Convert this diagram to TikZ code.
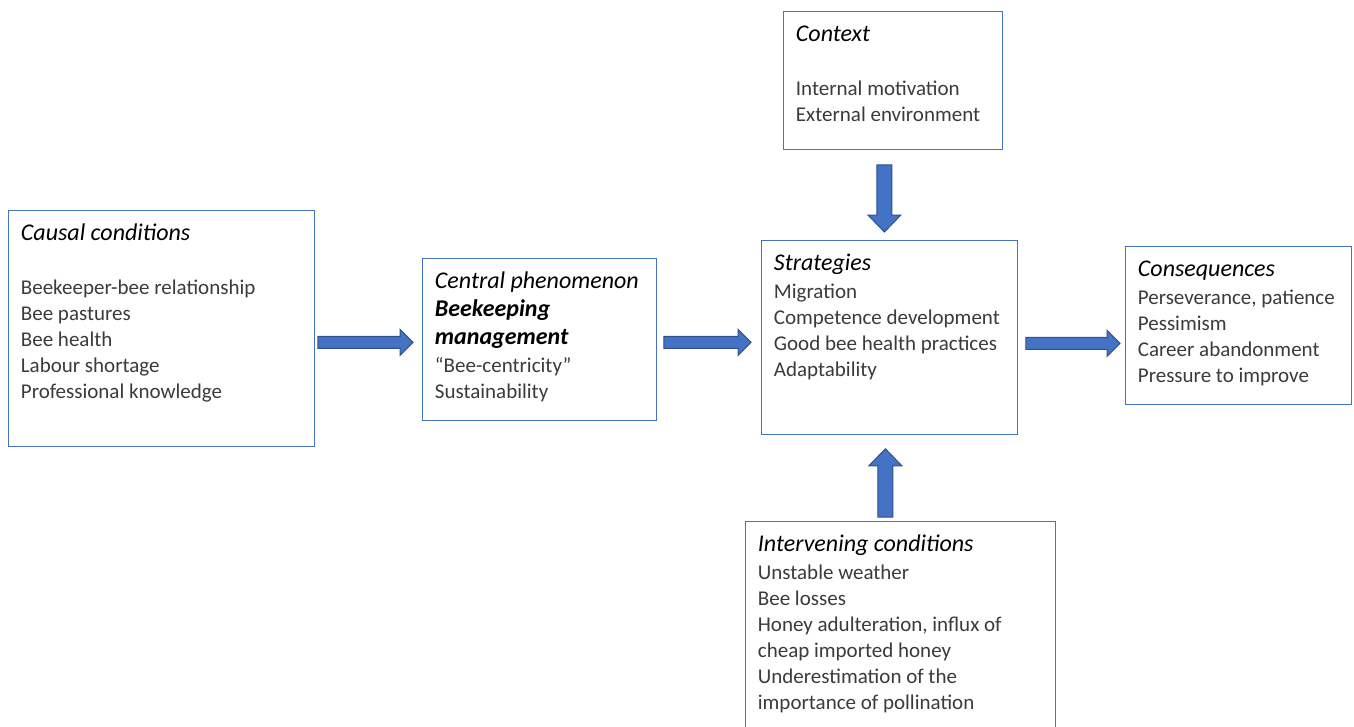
\documentclass[tikz,border=0pt]{standalone}
\usepackage{fontspec}
\setmainfont{Carlito}
\usetikzlibrary{calc}

\definecolor{boxline}{HTML}{4472C4}
\definecolor{arrowfill}{HTML}{4472C4}
\definecolor{arrowline}{HTML}{2F528F}
\definecolor{bodygray}{HTML}{3B3B3B}

\newcommand{\cellbody}[3]{\begin{minipage}[t][#2pt][t]{#1pt}\raggedright\parindent=0pt #3\end{minipage}}
\newcommand{\cellhead}[1]{{\fontsize{24}{28}\selectfont\itshape\color{black}\rule{0pt}{17.5pt}#1\par}}

\tikzset{
  cell/.style={draw=boxline, line width=0.8pt, fill=white, anchor=north west,
    inner xsep=12.5pt, inner ysep=13pt, text=bodygray,
    font=\fontsize{21}{26}\selectfont},
  fatarrow/.style n args={3}{draw=arrowline, fill=arrowfill, line width=1pt, line join=miter,
    to path={let \p1=(\tikztostart), \p2=(\tikztotarget),
      \n1={atan2(\y2-\y1,\x2-\x1)}, \n2={veclen(\x2-\x1,\y2-\y1)-#3} in
      ($(\p1)+(\n1+90:#1/2)$) -- ($(\p1)+(\n1+90:#1/2)+(\n1:\n2)$)
      -- ($(\p1)+(\n1+90:#2/2)+(\n1:\n2)$) -- (\p2)
      -- ($(\p1)+(\n1-90:#2/2)+(\n1:\n2)$) -- ($(\p1)+(\n1-90:#1/2)+(\n1:\n2)$)
      -- ($(\p1)+(\n1-90:#1/2)$) -- cycle}},
  hfat/.style={fatarrow={12}{26}{13}},
  vfat/.style={fatarrow={15}{33}{17}}
}

\begin{document}
\begin{tikzpicture}[x=1pt, y=1pt]
\useasboundingbox (0,0) rectangle (1354,-726);

\node[cell] (causal) at (8,-210) {\cellbody{281}{210}{\cellhead{Causal conditions}\vspace{28pt}
  Beekeeper-bee relationship\par Bee pastures\par Bee health\par Labour shortage\par Professional knowledge}};
\node[cell] (central) at (422,-258) {\cellbody{209}{136}{\cellhead{Central phenomenon\\{\bfseries Beekeeping\\management}}\vspace{2pt}
  “Bee-centricity”\par Sustainability}};
\node[cell] (context) at (783,-11) {\cellbody{194}{112}{\cellhead{Context}\vspace{28pt}
  Internal motivation\par External environment}};
\node[cell] (strategies) at (761,-240) {\cellbody{231}{168}{\cellhead{Strategies}\vspace{2pt}
  Migration\par Competence development\par Good bee health practices\par Adaptability}};
\node[cell] (consequences) at (1125,-246) {\cellbody{201}{132}{\cellhead{Consequences}\vspace{2pt}
  Perseverance, patience\par Pessimism\par Career abandonment\par Pressure to improve}};
\node[cell] (intervening) at (745,-521) {\cellbody{285}{189}{\cellhead{Intervening conditions}\vspace{2pt}
  Unstable weather\par Bee losses\par Honey adulteration, influx of\par cheap imported honey\par
  Underestimation of the\par importance of pollination}};

\draw[hfat] ($(causal.east)+(3,-14)$) to ($(central.west)+(-9,-3)$);
\draw[hfat] ($(central.east)+(7,-3)$) to ($(strategies.west)+(-10,-5)$);
\draw[hfat] ($(strategies.east)+(8,-6)$) to ($(consequences.west)+(-5,-18)$);
\draw[vfat] ($(context.south)+(-8.5,-15)$) to ($(strategies.north)+(-5,8)$);
\draw[vfat] ($(intervening.north)+(-15,4)$) to ($(strategies.south)+(-4,-14)$);
\end{tikzpicture}
\end{document}
